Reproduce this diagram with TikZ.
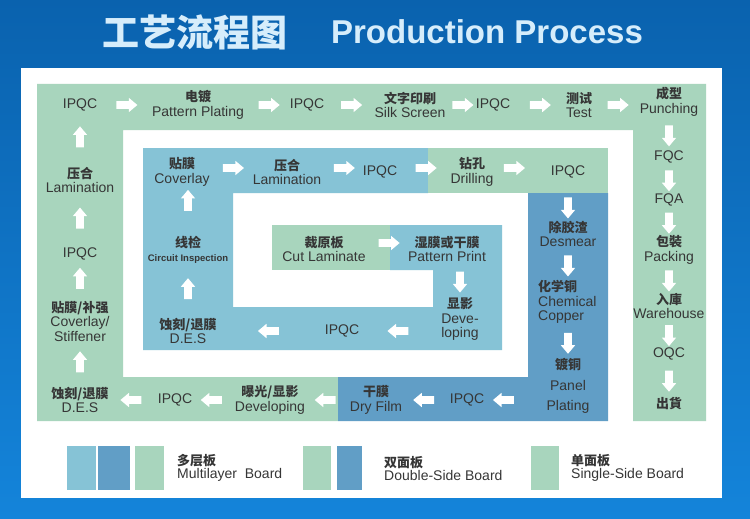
\documentclass[tikz,border=0pt]{standalone}
\usepackage{fontspec}
\setmainfont{Liberation Sans}
\newfontfamily\cjk{Noto Sans CJK SC}
\usetikzlibrary{shapes.arrows, calc}

\definecolor{bgblue}{HTML}{0A62AE}
\definecolor{bgblue2}{HTML}{1484DA}
\definecolor{brdsingle}{HTML}{A8D5BD}
\definecolor{brdmulti}{HTML}{86C3D6}
\definecolor{brddouble}{HTML}{619EC6}
\definecolor{ink}{HTML}{363636}
\definecolor{ttlfill}{HTML}{D6EDFB}

\newcommand{\zh}[1]{{\cjk\bfseries\fontsize{13}{14.5}\selectfont #1}}

\begin{document}
\begin{tikzpicture}
  [x=1pt, y=-1pt,
   lbl/.style={align=center, text=ink, inner sep=1pt, font=\fontsize{14}{14.5}\selectfont},
   blk/.style={single arrow, fill=white, draw=none, inner sep=3.6pt, minimum height=21pt,
     single arrow head extend=3.4pt, single arrow tip angle=80, sloped, allow upside down},
   key/.style={align=left, anchor=west, text=ink, inner sep=0pt, font=\fontsize{14}{13}\selectfont},
   ttl/.style={inner sep=0pt, text=ttlfill}]

  % frame
  \useasboundingbox (0,0) rectangle (750,519);
  \shade[top color=bgblue, bottom color=bgblue2] (0,0) rectangle (750,519);
  \fill[white] (21,68) rectangle (722,498);

  % title
  \node[ttl, font=\cjk\bfseries\fontsize{37}{37}\selectfont] (zhtitle) at (195,32) {工艺流程图};
  \node[ttl, font=\bfseries\fontsize{33}{33}\selectfont] (entitle) at (487,32) {Production Process};

  % boards
  \fill[brdsingle] (37,84) -- (706,84) -- (706,421) -- (633,421) -- (633,130) -- (123,130)
    -- (123,377) -- (338,377) -- (338,421) -- (37,421) -- cycle;
  \fill[brdmulti] (143,148) -- (428,148) -- (428,193) -- (233,193) -- (233,307) -- (433,307)
    -- (433,270) -- (390,270) -- (390,225) -- (502,225) -- (502,350) -- (143,350) -- cycle;
  \fill[brdsingle] (272,225) rectangle (390,270);
  \fill[brdsingle] (428,148) rectangle (608,193);
  \fill[brddouble] (528,193) -- (608,193) -- (608,421) -- (338,421) -- (338,377) -- (528,377) -- cycle;

  % legend
  \fill[brdmulti] (67,446) rectangle (96,490);
  \fill[brddouble] (98,446) rectangle (130,490);
  \fill[brdsingle] (135,446) rectangle (164,490);
  \fill[brdsingle] (303,446) rectangle (331,490);
  \fill[brddouble] (337,446) rectangle (362,490);
  \fill[brdsingle] (531,446) rectangle (559,490);
  \node[key] (keymulti) at (177,468) {\zh{多层板}\\Multilayer\ \ Board};
  \node[key] (keydouble) at (384,469) {\zh{双面板}\\Double-Side Board};
  \node[key] (keysingle) at (571,468) {\zh{单面板}\\Single-Side Board};

  % single-side steps
  \node[lbl] (ipqcA) at (80,105) {IPQC};
  \node[lbl] (plating) at (198,105) {\zh{电镀}\\Pattern Plating};
  \node[lbl] (ipqcB) at (307,105) {IPQC};
  \node[lbl] (silk) at (410,105) {\zh{文字印刷}\\Silk Screen};
  \node[lbl] (ipqcC) at (493,105) {IPQC};
  \node[lbl] (test) at (579,105) {\zh{测试}\\Test};
  \node[lbl] (punch) at (669,102) {\zh{成型}\\Punching};
  \node[lbl] (fqc) at (669,157) {FQC};
  \node[lbl] (fqa) at (669,200) {FQA};
  \node[lbl] (pack) at (669,250) {\zh{包裝}\\Packing};
  \node[lbl] (wh) at (669,306) {\zh{入庫}\\Warehouse};
  \node[lbl] (oqc) at (669,354) {OQC};
  \node[lbl] (ship) at (669,404) {\zh{出貨}};
  \node[lbl] (lamA) at (80,180) {\zh{压合}\\Lamination};
  \node[lbl] (ipqcD) at (80,254) {IPQC};
  \node[lbl] (cover) at (80,321) {\zh{贴膜/补强}\\Coverlay/\\Stiffener};
  \node[lbl] (desA) at (80,400) {\zh{蚀刻/退膜}\\D.E.S};
  \node[lbl] (ipqcE) at (175,400) {IPQC};
  \node[lbl] (devA) at (270,400) {\zh{曝光/显影}\\Developing};

  % double-side steps
  \node[lbl] (dry) at (376,400) {\zh{干膜}\\Dry Film};
  \node[lbl] (ipqcF) at (467,400) {IPQC};
  \node[lbl, font=\fontsize{14}{20.5}\selectfont] (panel) at (568,386) {\zh{镀铜}\\Panel\\Plating};
  \node[lbl] (ipqcG) at (568,172) {IPQC};
  \node[lbl] (desm) at (568,234) {\zh{除胶渣}\\Desmear};
  \node[lbl, align=left, anchor=west] (chem) at (537,302) {\zh{化学铜}\\Chemical\\Copper};

  % multilayer steps
  \node[lbl] (coverB) at (182,172) {\zh{贴膜}\\Coverlay};
  \node[lbl] (lamB) at (287,172) {\zh{压合}\\Lamination};
  \node[lbl] (ipqcH) at (380,172) {IPQC};
  \node[lbl] (drill) at (472,172) {\zh{钻孔}\\Drilling};
  \node[lbl] (circ) at (188,250) {\zh{线检}\\{\bfseries\fontsize{9.5}{11}\selectfont Circuit Inspection}};
  \node[lbl] (desB) at (188,331) {\zh{蚀刻/退膜}\\D.E.S};
  \node[lbl] (ipqcI) at (342,331) {IPQC};
  \node[lbl] (devB) at (460,319) {\zh{显影}\\Deve-\\loping};
  \node[lbl] (cut) at (324,249) {\zh{裁原板}\\Cut Laminate};
  \node[lbl] (pat) at (447,249) {\zh{湿膜或干膜}\\Pattern Print};

  % flow arrows
  \path (cut.east) -- node[blk, yshift=6pt] (c1) {} (pat.west);
  \path (devB.north |- pat.south) -- node[blk] (c2) {} (devB.north);
  \path (ipqcI -| devB.west) -- node[blk] (m1) {} (ipqcI.east);
  \path (ipqcI.west) -- node[blk] (m2) {} (desB.east);
  \path (desB.north) -- node[blk] (m3) {} (circ.south);
  \path (circ.north) -- node[blk, pos=0.68] (m4) {} (circ.north |- coverB.south);
  \path (coverB.east) -- node[blk, yshift=4pt] (m5) {} (lamB.west);
  \path (lamB.east) -- node[blk, yshift=4pt] (m6) {} (ipqcH.west);
  \path (ipqcH.east) -- node[blk, yshift=4pt] (m7) {} (drill.west);
  \path (drill.east) -- node[blk, pos=0.32, yshift=4pt] (m8) {} (ipqcG.west);
  \path (ipqcG.south) -- node[blk, pos=0.65] (d1) {} (desm.north);
  \path (desm.south) -- node[blk] (d2) {} (desm.south |- chem.north);
  \path (panel.north |- chem.south) -- node[blk] (d3) {} (panel.north);
  \path (panel.west |- ipqcF) -- node[blk, pos=0.66] (b1) {} (ipqcF.east);
  \path (ipqcF.west) -- node[blk] (b2) {} (dry.east);
  \path (dry.west) -- node[blk] (b3) {} (devA.east);
  \path (devA.west) -- node[blk] (b4) {} (ipqcE.east);
  \path (ipqcE.west) -- node[blk] (b5) {} (desA.east);
  \path (desA.north) -- node[blk] (l1) {} (cover.south);
  \path (cover.north) -- node[blk] (l2) {} (ipqcD.south);
  \path (ipqcD.north) -- node[blk] (l3) {} (lamA.south);
  \path (lamA.north) -- node[blk] (l4) {} (ipqcA.south);
  \path (ipqcA.east) -- node[blk] (t1) {} (plating.west);
  \path (plating.east) -- node[blk] (t2) {} (ipqcB.west);
  \path (ipqcB.east) -- node[blk] (t3) {} (silk.west);
  \path (silk.east) -- node[blk] (t4) {} (ipqcC.west);
  \path (ipqcC.east) -- node[blk] (t5) {} (test.west);
  \path (test.east) -- node[blk] (t6) {} (test.east -| punch.west);
  \path (punch.south) -- node[blk] (s1) {} (fqc.north);
  \path (fqc.south) -- node[blk] (s2) {} (fqa.north);
  \path (fqa.south) -- node[blk] (s3) {} (pack.north);
  \path (pack.south) -- node[blk] (s4) {} (wh.north);
  \path (wh.south) -- node[blk] (s5) {} (oqc.north);
  \path (oqc.south) -- node[blk] (s6) {} (ship.north);
\end{tikzpicture}
\end{document}
